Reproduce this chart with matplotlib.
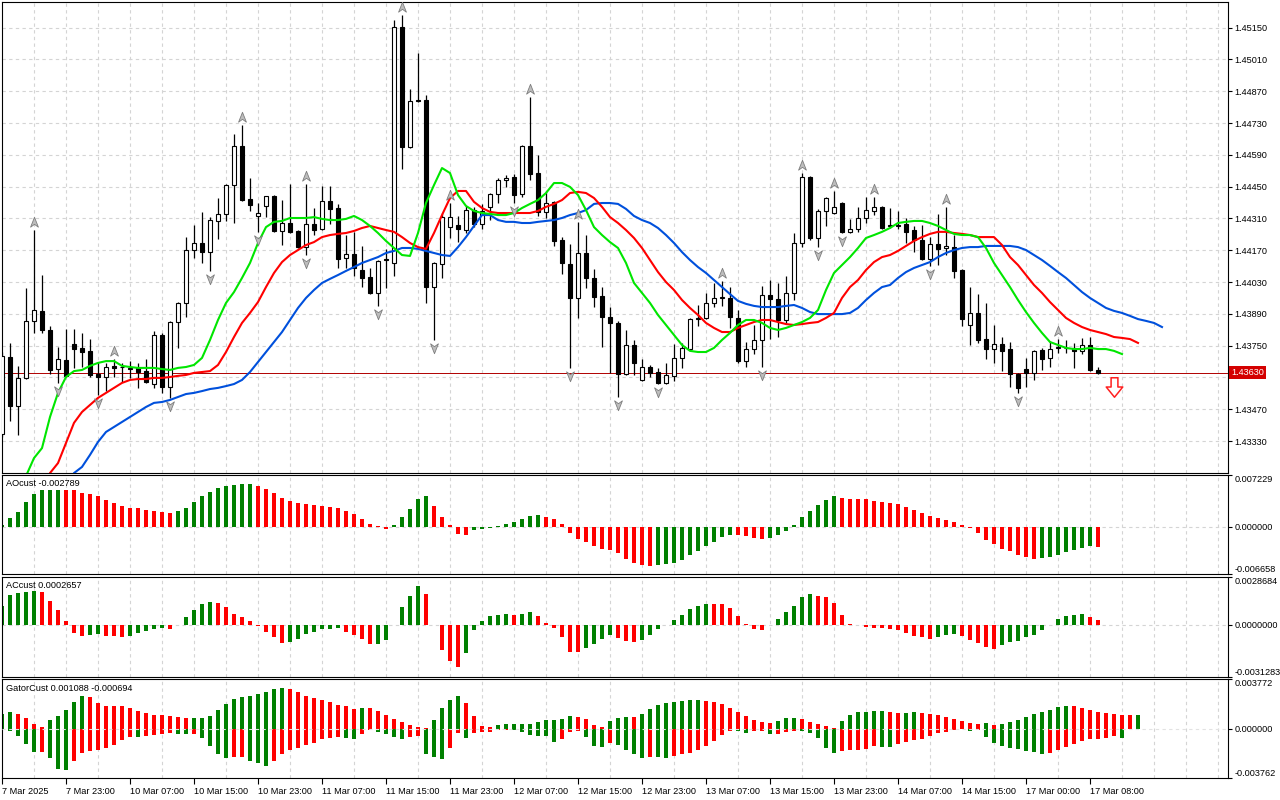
import numpy as np
import matplotlib.pyplot as plt
from matplotlib.path import Path
from matplotlib.transforms import offset_copy, blended_transform_factory

plt.rcParams['font.family'] = ['Liberation Sans', 'DejaVu Sans']

# ---------------- H1 price bars ----------------
open_ = [1.43361, 1.43700, 1.43484, 1.43608, 1.43859, 1.43903, 1.43819, 1.43647, 1.43687, 1.43757,
         1.43740, 1.43727, 1.43625, 1.43612, 1.43661, 1.43656, 1.43652, 1.43652, 1.43638, 1.43581,
         1.43797, 1.43568, 1.43854, 1.43938, 1.44171, 1.44202, 1.44162, 1.44299, 1.44330, 1.44457,
         1.44629, 1.44396, 1.44321, 1.44365, 1.44409, 1.44255, 1.44290, 1.44255, 1.44184, 1.44286,
         1.44264, 1.44387, 1.44356, 1.44136, 1.44154, 1.44083, 1.44052, 1.43982, 1.44132, 1.44114,
         1.45153, 1.44625, 1.44832, 1.44832, 1.44008, 1.44110, 1.44272, 1.44281, 1.44259, 1.44347,
         1.44286, 1.44361, 1.44418, 1.44480, 1.44493, 1.44418, 1.44629, 1.44510, 1.44339, 1.44383,
         1.44215, 1.44110, 1.43960, 1.44158, 1.44048, 1.43969, 1.43876, 1.43850, 1.43625, 1.43753,
         1.43599, 1.43656, 1.43634, 1.43586, 1.43617, 1.43696, 1.43735, 1.43867, 1.43872, 1.43938,
         1.43960, 1.43960, 1.43872, 1.43682, 1.43735, 1.43775, 1.43973, 1.43956, 1.43863, 1.43982,
         1.44202, 1.44493, 1.44224, 1.44343, 1.44334, 1.44378, 1.44251, 1.44264, 1.44312, 1.44343,
         1.44361, 1.44277, 1.44281, 1.44286, 1.44259, 1.44215, 1.44132, 1.44198, 1.44180, 1.44184,
         1.44083, 1.43841, 1.43894, 1.43779, 1.43735, 1.43757, 1.43735, 1.43625, 1.43647, 1.43630,
         1.43731, 1.43696, 1.43740, 1.43740, 1.43740, 1.43727, 1.43753, 1.43643]
high = [1.43722, 1.43762, 1.43661, 1.44004, 1.44259, 1.44061, 1.43837, 1.43744, 1.43823, 1.43823,
        1.43806, 1.43779, 1.43678, 1.43674, 1.43691, 1.43674, 1.43682, 1.43674, 1.43691, 1.43815,
        1.43806, 1.43859, 1.43942, 1.44228, 1.44281, 1.44339, 1.44316, 1.44400, 1.44462, 1.44682,
        1.44722, 1.44488, 1.44378, 1.44409, 1.44413, 1.44391, 1.44462, 1.44259, 1.44462, 1.44356,
        1.44453, 1.44453, 1.44374, 1.44237, 1.44251, 1.44189, 1.44092, 1.44127, 1.44176, 1.45184,
        1.45206, 1.44880, 1.45039, 1.44854, 1.44118, 1.44334, 1.44378, 1.44321, 1.44365, 1.44361,
        1.44374, 1.44422, 1.44488, 1.44501, 1.44506, 1.44634, 1.44845, 1.44590, 1.44431, 1.44387,
        1.44228, 1.44198, 1.44295, 1.44237, 1.44088, 1.44008, 1.43920, 1.43859, 1.43819, 1.43775,
        1.43691, 1.43665, 1.43652, 1.43674, 1.43757, 1.43762, 1.43872, 1.43929, 1.43982, 1.44026,
        1.44035, 1.44008, 1.43907, 1.43766, 1.43841, 1.44013, 1.44039, 1.44026, 1.44057, 1.44246,
        1.44510, 1.44497, 1.44352, 1.44405, 1.44431, 1.44383, 1.44308, 1.44361, 1.44405, 1.44405,
        1.44365, 1.44356, 1.44343, 1.44312, 1.44277, 1.44281, 1.44228, 1.44330, 1.44361, 1.44237,
        1.44088, 1.44008, 1.43977, 1.43938, 1.43841, 1.43788, 1.43766, 1.43630, 1.43696, 1.43731,
        1.43740, 1.43771, 1.43779, 1.43775, 1.43762, 1.43784, 1.43788, 1.43656]
low = [1.43348, 1.43418, 1.43357, 1.43603, 1.43806, 1.43806, 1.43625, 1.43586, 1.43612, 1.43652,
       1.43656, 1.43612, 1.43533, 1.43550, 1.43612, 1.43590, 1.43608, 1.43564, 1.43586, 1.43564,
       1.43542, 1.43520, 1.43740, 1.43876, 1.44136, 1.44114, 1.44079, 1.44220, 1.44299, 1.44290,
       1.44387, 1.44343, 1.44251, 1.44316, 1.44251, 1.44193, 1.44246, 1.44180, 1.44149, 1.44237,
       1.44259, 1.44286, 1.44092, 1.44092, 1.44057, 1.44008, 1.43977, 1.43925, 1.44004, 1.44057,
       1.44528, 1.44620, 1.44823, 1.43938, 1.43775, 1.44048, 1.44224, 1.44206, 1.44246, 1.44272,
       1.44264, 1.44303, 1.44378, 1.44449, 1.44378, 1.44405, 1.44480, 1.44321, 1.44312, 1.44189,
       1.44066, 1.43652, 1.43872, 1.44004, 1.43920, 1.43744, 1.43630, 1.43524, 1.43621, 1.43621,
       1.43594, 1.43612, 1.43581, 1.43581, 1.43594, 1.43652, 1.43731, 1.43837, 1.43867, 1.43920,
       1.43925, 1.43828, 1.43674, 1.43656, 1.43713, 1.43656, 1.43779, 1.43788, 1.43850, 1.43951,
       1.44184, 1.44215, 1.44184, 1.44277, 1.44330, 1.44246, 1.44246, 1.44251, 1.44290, 1.44325,
       1.44264, 1.44268, 1.44264, 1.44202, 1.44162, 1.44127, 1.44101, 1.44105, 1.44149, 1.44048,
       1.43837, 1.43753, 1.43762, 1.43691, 1.43674, 1.43638, 1.43568, 1.43542, 1.43568, 1.43599,
       1.43643, 1.43656, 1.43718, 1.43718, 1.43652, 1.43713, 1.43638, 1.43625]
close = [1.43704, 1.43484, 1.43608, 1.43859, 1.43907, 1.43819, 1.43643, 1.43691, 1.43617, 1.43735,
         1.43722, 1.43621, 1.43612, 1.43656, 1.43652, 1.43654, 1.43647, 1.43634, 1.43590, 1.43797,
         1.43568, 1.43854, 1.43938, 1.44171, 1.44202, 1.44162, 1.44303, 1.44330, 1.44457, 1.44629,
         1.44391, 1.44369, 1.44334, 1.44409, 1.44255, 1.44290, 1.44251, 1.44184, 1.44286, 1.44259,
         1.44387, 1.44352, 1.44132, 1.44154, 1.44092, 1.44048, 1.43982, 1.44123, 1.44127, 1.45153,
         1.44625, 1.44827, 1.44827, 1.44008, 1.44114, 1.44316, 1.44316, 1.44264, 1.44347, 1.44286,
         1.44343, 1.44418, 1.44480, 1.44488, 1.44413, 1.44629, 1.44506, 1.44339, 1.44378, 1.44211,
         1.44114, 1.43960, 1.44158, 1.44048, 1.43964, 1.43876, 1.43850, 1.43625, 1.43753, 1.43674,
         1.43656, 1.43630, 1.43586, 1.43621, 1.43696, 1.43740, 1.43867, 1.43872, 1.43938, 1.43960,
         1.43964, 1.43876, 1.43682, 1.43735, 1.43775, 1.43973, 1.43956, 1.43863, 1.43982, 1.44202,
         1.44493, 1.44224, 1.44343, 1.44400, 1.44361, 1.44251, 1.44264, 1.44312, 1.44347, 1.44361,
         1.44268, 1.44281, 1.44277, 1.44251, 1.44215, 1.44132, 1.44198, 1.44176, 1.44189, 1.44079,
         1.43867, 1.43894, 1.43775, 1.43735, 1.43757, 1.43727, 1.43625, 1.43564, 1.43630, 1.43727,
         1.43691, 1.43735, 1.43744, 1.43738, 1.43727, 1.43753, 1.43643, 1.43630]

# ---------------- Alligator lines (shifted forward) ----------------
lips_start, teeth_start, jaw_start = 2, 5, 8
lips = [1.43070, 1.43176, 1.43255, 1.43299, 1.43436, 1.43542, 1.43612, 1.43638, 1.43643, 1.43661,
        1.43674, 1.43682, 1.43682, 1.43661, 1.43656, 1.43652, 1.43652, 1.43652, 1.43647, 1.43643,
        1.43652, 1.43656, 1.43665, 1.43696, 1.43775, 1.43863, 1.43938, 1.43986, 1.44048, 1.44114,
        1.44202, 1.44272, 1.44295, 1.44299, 1.44312, 1.44312, 1.44312, 1.44316, 1.44308, 1.44303,
        1.44303, 1.44308, 1.44321, 1.44303, 1.44277, 1.44246, 1.44211, 1.44180, 1.44149, 1.44145,
        1.44246, 1.44378, 1.44457, 1.44532, 1.44510, 1.44413, 1.44365, 1.44343, 1.44334, 1.44330,
        1.44325, 1.44325, 1.44334, 1.44356, 1.44374, 1.44391, 1.44422, 1.44466, 1.44466, 1.44449,
        1.44413, 1.44347, 1.44272, 1.44237, 1.44206, 1.44180, 1.44114, 1.44026, 1.43982, 1.43938,
        1.43885, 1.43841, 1.43797, 1.43753, 1.43727, 1.43722, 1.43722, 1.43740, 1.43775, 1.43806,
        1.43841, 1.43863, 1.43863, 1.43850, 1.43828, 1.43819, 1.43828, 1.43841, 1.43854, 1.43872,
        1.43907, 1.43995, 1.44070, 1.44105, 1.44140, 1.44180, 1.44224, 1.44237, 1.44251, 1.44268,
        1.44290, 1.44295, 1.44299, 1.44299, 1.44290, 1.44277, 1.44259, 1.44242, 1.44237, 1.44237,
        1.44228, 1.44180, 1.44114, 1.44061, 1.44008, 1.43951, 1.43898, 1.43850, 1.43806, 1.43766,
        1.43753, 1.43740, 1.43735, 1.43735, 1.43740, 1.43735, 1.43735, 1.43727, 1.43713]
teeth = [1.43115, 1.43189, 1.43233, 1.43322, 1.43410, 1.43458, 1.43489, 1.43520, 1.43542, 1.43564,
         1.43586, 1.43599, 1.43603, 1.43603, 1.43608, 1.43608, 1.43612, 1.43617, 1.43621, 1.43630,
         1.43634, 1.43638, 1.43665, 1.43722, 1.43788, 1.43850, 1.43894, 1.43942, 1.44008, 1.44070,
         1.44118, 1.44149, 1.44171, 1.44193, 1.44206, 1.44228, 1.44237, 1.44242, 1.44246, 1.44255,
         1.44268, 1.44277, 1.44268, 1.44259, 1.44251, 1.44228, 1.44202, 1.44184, 1.44176, 1.44246,
         1.44325, 1.44400, 1.44431, 1.44431, 1.44383, 1.44356, 1.44339, 1.44334, 1.44334, 1.44334,
         1.44334, 1.44334, 1.44343, 1.44361, 1.44374, 1.44391, 1.44422, 1.44427, 1.44422, 1.44400,
         1.44361, 1.44316, 1.44290, 1.44259, 1.44224, 1.44180, 1.44127, 1.44074, 1.44030, 1.43995,
         1.43951, 1.43916, 1.43885, 1.43850, 1.43828, 1.43810, 1.43810, 1.43828, 1.43841, 1.43854,
         1.43863, 1.43863, 1.43854, 1.43845, 1.43841, 1.43845, 1.43850, 1.43854, 1.43872, 1.43894,
         1.43960, 1.44008, 1.44039, 1.44083, 1.44118, 1.44140, 1.44149, 1.44167, 1.44189, 1.44211,
         1.44228, 1.44242, 1.44251, 1.44251, 1.44246, 1.44242, 1.44237, 1.44228, 1.44228, 1.44228,
         1.44193, 1.44140, 1.44105, 1.44061, 1.44017, 1.43982, 1.43942, 1.43907, 1.43872, 1.43850,
         1.43832, 1.43819, 1.43810, 1.43801, 1.43788, 1.43784, 1.43779, 1.43762]
jaw = [1.43115, 1.43189, 1.43216, 1.43269, 1.43326, 1.43370, 1.43392, 1.43414, 1.43436, 1.43458,
       1.43480, 1.43498, 1.43502, 1.43511, 1.43524, 1.43537, 1.43542, 1.43550, 1.43559, 1.43564,
       1.43572, 1.43581, 1.43599, 1.43634, 1.43678, 1.43722, 1.43766, 1.43810, 1.43863, 1.43916,
       1.43960, 1.43995, 1.44026, 1.44044, 1.44061, 1.44079, 1.44096, 1.44114, 1.44127, 1.44140,
       1.44158, 1.44167, 1.44180, 1.44180, 1.44176, 1.44167, 1.44158, 1.44149, 1.44145, 1.44184,
       1.44228, 1.44277, 1.44325, 1.44325, 1.44303, 1.44295, 1.44295, 1.44290, 1.44290, 1.44295,
       1.44299, 1.44303, 1.44312, 1.44325, 1.44334, 1.44347, 1.44374, 1.44378, 1.44378, 1.44374,
       1.44352, 1.44321, 1.44303, 1.44290, 1.44268, 1.44237, 1.44202, 1.44162, 1.44127, 1.44096,
       1.44070, 1.44039, 1.44008, 1.43977, 1.43947, 1.43934, 1.43925, 1.43920, 1.43920, 1.43920,
       1.43925, 1.43929, 1.43916, 1.43898, 1.43889, 1.43889, 1.43889, 1.43889, 1.43894, 1.43916,
       1.43951, 1.43982, 1.44008, 1.44017, 1.44048, 1.44074, 1.44092, 1.44105, 1.44118, 1.44140,
       1.44158, 1.44171, 1.44180, 1.44184, 1.44184, 1.44189, 1.44189, 1.44189, 1.44189, 1.44184,
       1.44171, 1.44149, 1.44127, 1.44101, 1.44074, 1.44048, 1.44017, 1.43986, 1.43960, 1.43938,
       1.43916, 1.43903, 1.43894, 1.43881, 1.43867, 1.43859, 1.43850, 1.43832]

up_fractals = [4, 14, 30, 38, 50, 56, 66, 72, 90, 100, 104, 109, 118, 132]
down_fractals = [7, 12, 21, 26, 32, 38, 47, 54, 64, 71, 77, 82, 95, 102, 105, 116, 127]

signal_bar = 139
signal_price = 1.43566
last_price = 1.43630

price_levels = [1.43330, 1.43470, 1.43610, 1.43750, 1.43890, 1.44030, 1.44170,
                1.44310, 1.44450, 1.44590, 1.44730, 1.44870, 1.45010, 1.45150]
price_lim = (1.43188, 1.45263)

# ---------------- oscillators ----------------
ao = [0.000280, 0.001212, 0.002097, 0.003402, 0.004613, 0.005149, 0.005173, 0.005196, 0.005173, 0.005149,
      0.004753, 0.004613, 0.004241, 0.003775, 0.003355, 0.002936, 0.002656, 0.002563, 0.002377, 0.002237,
      0.002097, 0.001957, 0.002237, 0.002656, 0.003402, 0.004241, 0.004893, 0.005452, 0.005732, 0.005872,
      0.005988, 0.006011, 0.005732, 0.005312, 0.004753, 0.004054, 0.003635, 0.003355, 0.003215, 0.003076,
      0.002936, 0.002796, 0.002656, 0.002237, 0.001817, 0.001118, 0.000419, 0.000047, -0.000280, 0.000280,
      0.001398, 0.002516, 0.003914, 0.004334, 0.002936, 0.001398, 0.000280, -0.001025, -0.001212, -0.000513,
      -0.000373, -0.000233, 0.000047, 0.000419, 0.000699, 0.001118, 0.001538, 0.001584, 0.001398, 0.001118,
      0.000419, -0.000932, -0.001678, -0.002097, -0.002656, -0.003076, -0.003215, -0.003728, -0.004474, -0.005033,
      -0.005312, -0.005452, -0.005406, -0.005173, -0.005033, -0.004613, -0.003914, -0.003355, -0.002656, -0.002097,
      -0.001398, -0.001118, -0.001165, -0.001351, -0.001538, -0.001678, -0.001538, -0.001118, -0.000559, 0.000280,
      0.001398, 0.002237, 0.003076, 0.003775, 0.004334, 0.004054, 0.003914, 0.003891, 0.003868, 0.003635,
      0.003495, 0.003355, 0.003215, 0.002796, 0.002377, 0.001957, 0.001538, 0.001258, 0.000979, 0.000699,
      0.000280, -0.000186, -0.000885, -0.001817, -0.002423, -0.003076, -0.003355, -0.003914, -0.004194, -0.004474,
      -0.004334, -0.004194, -0.003914, -0.003495, -0.003215, -0.002936, -0.002750, -0.002789]
ac = [0.00114, 0.00180, 0.00192, 0.00198, 0.00199, 0.00198, 0.00144, 0.00090, 0.00024, -0.00048,
      -0.00068, -0.00064, -0.00058, -0.00068, -0.00069, -0.00076, -0.00070, -0.00048, -0.00036, -0.00028,
      -0.00020, -0.00028, -0.00004, 0.00048, 0.00090, 0.00126, 0.00138, 0.00132, 0.00104, 0.00066,
      0.00048, 0.00024, -0.00010, -0.00042, -0.00076, -0.00112, -0.00102, -0.00084, -0.00058, -0.00046,
      -0.00028, -0.00024, -0.00020, -0.00046, -0.00064, -0.00088, -0.00118, -0.00116, -0.00094, -0.00002,
      0.00108, 0.00174, 0.00234, 0.00186, -0.00004, -0.00154, -0.00220, -0.00256, -0.00172, -0.00034,
      0.00024, 0.00054, 0.00060, 0.00062, 0.00060, 0.00066, 0.00078, 0.00054, 0.00012, -0.00020,
      -0.00076, -0.00166, -0.00167, -0.00142, -0.00118, -0.00088, -0.00064, -0.00082, -0.00100, -0.00106,
      -0.00094, -0.00064, -0.00028, -0.00004, 0.00030, 0.00060, 0.00096, 0.00114, 0.00126, 0.00125,
      0.00124, 0.00102, 0.00054, 0.00004, -0.00024, -0.00030, -0.00004, 0.00036, 0.00078, 0.00114,
      0.00168, 0.00186, 0.00174, 0.00168, 0.00132, 0.00060, 0.00006, -0.00002, -0.00016, -0.00020,
      -0.00021, -0.00026, -0.00030, -0.00048, -0.00066, -0.00076, -0.00084, -0.00076, -0.00060, -0.00054,
      -0.00066, -0.00090, -0.00112, -0.00136, -0.00144, -0.00124, -0.00102, -0.00096, -0.00076, -0.00060,
      -0.00030, -0.00004, 0.00036, 0.00054, 0.00060, 0.00061, 0.00048, 0.0002657]
gator_up = [0.001142, 0.001294, 0.001142, 0.000837, 0.000381, 0.000152, 0.000685, 0.000989, 0.001446, 0.002055,
            0.002512, 0.002436, 0.001979, 0.001751, 0.001751, 0.001751, 0.001598, 0.001370, 0.001218, 0.001066,
            0.001066, 0.000989, 0.000913, 0.000837, 0.000850, 0.000863, 0.000989, 0.001446, 0.001903, 0.002283,
            0.002436, 0.002512, 0.002664, 0.002816, 0.003044, 0.003121, 0.003044, 0.002816, 0.002512, 0.002359,
            0.002207, 0.002055, 0.001827, 0.001751, 0.001548, 0.001598, 0.001573, 0.001370, 0.001066, 0.000761,
            0.000533, 0.000304, 0.000152, 0.000076, 0.000685, 0.001598, 0.002207, 0.002512, 0.001979, 0.000989,
            0.000228, 0.000152, 0.000304, 0.000381, 0.000381, 0.000381, 0.000381, 0.000533, 0.000685, 0.000685,
            0.000761, 0.000989, 0.000913, 0.000761, 0.000304, 0.000152, 0.000609, 0.000837, 0.000913, 0.000888,
            0.001142, 0.001522, 0.001827, 0.001979, 0.002055, 0.002131, 0.002207, 0.002207, 0.002131, 0.002055,
            0.001903, 0.001598, 0.001294, 0.000989, 0.000685, 0.000533, 0.000457, 0.000609, 0.000837, 0.000837,
            0.000761, 0.000533, 0.000381, 0.000228, 0.000076, 0.000609, 0.001066, 0.001294, 0.001319, 0.001370,
            0.001370, 0.001294, 0.001218, 0.001230, 0.001294, 0.001218, 0.001142, 0.001066, 0.000913, 0.000761,
            0.000609, 0.000457, 0.000381, 0.000431, 0.000304, 0.000355, 0.000507, 0.000685, 0.000913, 0.001142,
            0.001294, 0.001446, 0.001674, 0.001751, 0.001738, 0.001598, 0.001446, 0.001294, 0.001218, 0.001142,
            0.001066, 0.001053, 0.001078]
gator_down = [-0.000051, -0.000127, -0.000507, -0.001142, -0.001751, -0.001725, -0.002182, -0.003019, -0.003095, -0.002436,
              -0.001827, -0.001674, -0.001598, -0.001446, -0.001218, -0.000837, -0.000609, -0.000634, -0.000533, -0.000457,
              -0.000381, -0.000304, -0.000381, -0.000381, -0.000368, -0.000685, -0.001294, -0.001903, -0.002207, -0.002131,
              -0.002106, -0.002436, -0.002588, -0.002816, -0.002436, -0.001903, -0.001598, -0.001446, -0.001218, -0.001066,
              -0.000761, -0.000685, -0.000609, -0.000685, -0.000761, -0.000381, -0.000076, -0.000203, -0.000381, -0.000609,
              -0.000761, -0.000609, -0.000533, -0.001903, -0.002131, -0.002283, -0.001446, -0.000304, -0.000685, -0.000304,
              -0.000228, -0.000228, -0.000076, -0.000076, -0.000101, -0.000228, -0.000457, -0.000533, -0.000533, -0.000989,
              -0.000761, -0.000228, -0.000152, -0.000609, -0.001294, -0.001370, -0.001066, -0.001218, -0.001598, -0.001903,
              -0.002207, -0.002131, -0.002156, -0.002182, -0.002055, -0.001903, -0.001827, -0.001598, -0.001294, -0.000913,
              -0.000457, -0.000152, -0.000178, -0.000304, -0.000152, -0.000152, -0.000381, -0.000355, -0.000228, -0.000152,
              -0.000178, -0.000304, -0.000685, -0.001446, -0.001827, -0.001674, -0.001598, -0.001598, -0.001522, -0.001294,
              -0.001345, -0.001370, -0.001142, -0.000989, -0.000837, -0.000761, -0.000533, -0.000304, -0.000228, -0.000076,
              -0.000025, -0.000152, -0.000076, -0.000609, -0.001066, -0.001294, -0.001446, -0.001522, -0.001674, -0.001751,
              -0.001903, -0.001827, -0.001598, -0.001370, -0.001142, -0.000913, -0.000761, -0.000761, -0.000685, -0.000533,
              -0.000685]

ao_lim = (-0.006658, 0.007229)
ac_lim = (-0.0031283, 0.0028684)
gator_lim = (-0.003762, 0.003772)

time_ticks = list(range(0, 137, 8))
time_labels = ['7 Mar 2025', '7 Mar 23:00', '10 Mar 07:00', '10 Mar 15:00', '10 Mar 23:00',
               '11 Mar 07:00', '11 Mar 15:00', '11 Mar 23:00', '12 Mar 07:00', '12 Mar 15:00',
               '12 Mar 23:00', '13 Mar 07:00', '13 Mar 15:00', '13 Mar 23:00', '14 Mar 07:00',
               '14 Mar 15:00', '17 Mar 00:00', '17 Mar 08:00']

GREEN = '#008000'
RED = '#ff0000'
GRID = '#d4d4d4'
FS = 6.6


def updown_colors(vals, first):
    # MT style: green when the bar grows, red when it shrinks, keep colour on ties
    cols = [first]
    for prev, cur in zip(vals[:-1], vals[1:]):
        if cur > prev:
            cols.append(GREEN)
        elif cur < prev:
            cols.append(RED)
        else:
            cols.append(cols[-1])
    return cols


fig = plt.figure(figsize=(12.8, 8), dpi=100)


def panel(top, bottom):
    return fig.add_axes([2 / 1280, 1 - bottom / 800, 1226 / 1280, (bottom - top) / 800])


ax = panel(2, 473.3)
ax_ao = panel(475, 574.3)
ax_ac = panel(576.7, 676.7)
ax_g = panel(679.3, 778.3)
XMAX = 153.25

for a in (ax, ax_ao, ax_ac, ax_g):
    a.set_xlim(0, XMAX)
    a.set_xticks([])
    a.set_xticks(np.arange(4, XMAX, 4), minor=True)
    a.grid(True, which='minor', axis='x', color=GRID, ls=(0, (3, 3)), lw=0.8)
    a.set_axisbelow(True)
    a.yaxis.tick_right()
    a.tick_params(axis='x', which='both', length=0, labelbottom=False)
    a.tick_params(axis='y', which='major', length=3, width=0.8, pad=1.5, labelsize=FS)
    for s in a.spines.values():
        s.set_linewidth(0.8)

# ---- main chart ----
o, h, l, c = map(np.array, (open_, high, low, close))
x = np.arange(len(c))
ax.set_ylim(price_lim)
ax.set_yticks(price_levels)
# the level right under the current-price tag is covered by it
ax.set_yticklabels(['' if abs(p - last_price) < 0.0003 else f'{p:.5f}' for p in price_levels])
ax.grid(True, which='major', axis='y', color=GRID, ls=(0, (3, 3)), lw=0.8)

ax.axhline(last_price, color='#b00000', lw=0.7, zorder=1.5)
ax.vlines(x, l, h, color='black', lw=0.9, zorder=2)
bull = c >= o
ax.bar(x, np.maximum(np.abs(c - o), 0.000008), bottom=np.minimum(o, c), width=0.62,
       color=np.where(bull, 'white', 'black'), edgecolor='black', linewidth=0.8, zorder=3)

ax.plot(np.arange(jaw_start, jaw_start + len(jaw)), jaw, color='#0050dc', lw=1.5, zorder=4)
ax.plot(np.arange(teeth_start, teeth_start + len(teeth)), teeth, color='#ff0000', lw=1.5, zorder=4)
ax.plot(np.arange(lips_start, lips_start + len(lips)), lips, color='#00e600', lw=1.5, zorder=4)

up_arrow = Path([(0, 1), (0.75, -0.9), (0, -0.35), (-0.75, -0.9), (0, 1)],
                [Path.MOVETO, Path.LINETO, Path.LINETO, Path.LINETO, Path.CLOSEPOLY])
down_arrow = Path([(0, -1), (0.75, 0.9), (0, 0.35), (-0.75, 0.9), (0, -1)],
                  [Path.MOVETO, Path.LINETO, Path.LINETO, Path.LINETO, Path.CLOSEPOLY])
up_tr = offset_copy(ax.transData, fig=fig, x=0, y=8, units='dots')
dn_tr = offset_copy(ax.transData, fig=fig, x=0, y=-8, units='dots')
ax.plot(up_fractals, h[up_fractals], ls='none', marker=up_arrow, ms=7.5, mfc='#bdbdbd',
        mec='#7d7d7d', mew=0.6, transform=up_tr, zorder=5)
ax.plot(down_fractals, l[down_fractals], ls='none', marker=down_arrow, ms=7.5, mfc='#bdbdbd',
        mec='#7d7d7d', mew=0.6, transform=dn_tr, zorder=5)

block_down = Path([(-0.35, 1), (0.35, 1), (0.35, 0.05), (0.85, 0.05), (0, -1), (-0.85, 0.05),
                   (-0.35, 0.05), (-0.35, 1)],
                  [Path.MOVETO] + [Path.LINETO] * 6 + [Path.CLOSEPOLY])
ax.plot([signal_bar], [signal_price], ls='none', marker=block_down, ms=14, mfc='white',
        mec='#ff2020', mew=1.1, zorder=6)

ax.annotate(f'{last_price:.5f}', xy=(1, last_price),
            xycoords=blended_transform_factory(ax.transAxes, ax.transData),
            xytext=(2.2, 0), textcoords='offset points', ha='left', va='center',
            fontsize=FS, color='white', annotation_clip=False, zorder=10,
            bbox=dict(boxstyle='square,pad=0.22', fc='#d40000', ec='none'))


# ---- oscillator panels ----
def osc_axis(a, lim, labels, title):
    a.set_ylim(lim)
    a.set_yticks([lim[0], 0, lim[1]])
    a.set_yticklabels(labels)
    tl = a.get_yticklabels()
    tl[0].set_va('bottom')
    tl[2].set_va('top')
    a.text(0.0035, 0.955, title, transform=a.transAxes, ha='left', va='top', fontsize=FS)


ax_ao.bar(x, ao, width=0.56, color=updown_colors(ao, GREEN), linewidth=0, zorder=2)
ax_ao.axhline(0, color=GRID, ls=(0, (3, 3)), lw=0.8, zorder=1)
osc_axis(ax_ao, ao_lim, ['-0.006658', '0.000000', '0.007229'], 'AOcust -0.002789')

ax_ac.bar(x, ac, width=0.56, color=updown_colors(ac, GREEN), linewidth=0, zorder=2)
ax_ac.axhline(0, color=GRID, ls=(0, (3, 3)), lw=0.8, zorder=1)
osc_axis(ax_ac, ac_lim, ['-0.0031283', '0.0000000', '0.0028684'], 'ACcust 0.0002657')

gx_up = np.arange(len(gator_up))
gx_dn = np.arange(len(gator_down))
ax_g.bar(gx_up, gator_up, width=0.56, color=updown_colors(gator_up, GREEN), linewidth=0, zorder=2)
ax_g.bar(gx_dn, gator_down, width=0.56, color=updown_colors(list(np.abs(gator_down)), RED),
         linewidth=0, zorder=2)
ax_g.axhline(0, color='#e2e2e2', ls=(0, (3, 3)), lw=0.8, zorder=3)
osc_axis(ax_g, gator_lim, ['-0.003762', '0.000000', '0.003772'], 'GatorCust 0.001088 -0.000694')

ax_g.set_xticks(time_ticks)
ax_g.set_xticklabels(time_labels)
ax_g.tick_params(axis='x', which='major', length=4, width=0.8, labelbottom=True,
                 labelsize=FS, pad=2)
for t in ax_g.get_xticklabels():
    t.set_ha('left')

fig.savefig('out.png', dpi=100, facecolor='white')
